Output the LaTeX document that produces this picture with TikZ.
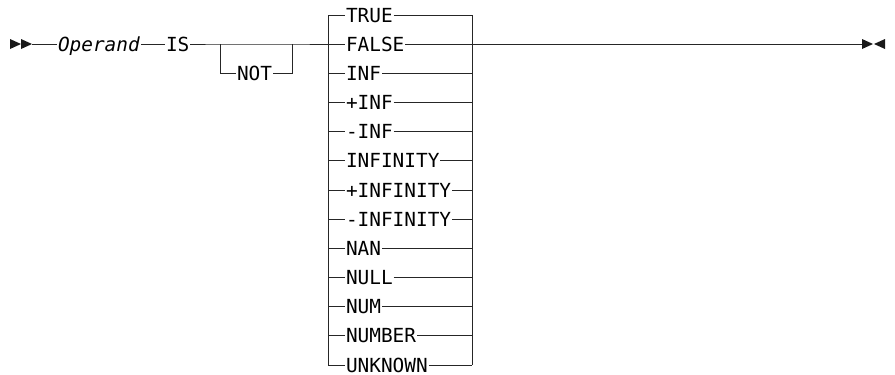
\documentclass[tikz,border=0pt]{standalone}
\usepackage{fontspec}
\newfontfamily\diagfont{DejaVu Sans Mono}
\tikzset{
  kw/.style={font=\diagfont\fontsize{19.4}{20}\selectfont, inner sep=1pt, outer sep=0pt,
             text height=14.1pt, text depth=0pt, anchor=west},
  rail/.style={line width=1pt, black!85},
  tip/.style={fill=black!90}
}
\begin{document}
\begin{tikzpicture}[x=1pt,y=-1pt]
\useasboundingbox (0,0) rectangle (895,375);

% start and end marks
\fill[tip] (10,39) -- (21,44) -- (10,49) -- cycle;
\fill[tip] (21,39) -- (32,44) -- (21,49) -- cycle;
\fill[tip] (862,39) -- (873,44) -- (862,49) -- cycle;
\fill[tip] (885,39) -- (874,44) -- (885,49) -- cycle;
\coordinate (START) at (32,44);
\coordinate (END) at (862,44);

\draw (57,44) node(OPER)[kw]{\itshape Operand};
\draw (165,44) node(IS)[kw]{IS};
\coordinate (SPLIT) at (220,44);
\coordinate (JOIN) at (292,44);
\draw (236,73) node(NOT)[kw]{NOT};

\coordinate (LEFT) at (328,44);
\coordinate (RIGHT) at (472,44);

\draw (345,15) node(TRUE)[kw]{TRUE};
\draw (345,44.2) node(FALSE)[kw]{FALSE};
\draw (345,73.3) node(INF)[kw]{INF};
\draw (345,102.5) node(PINF)[kw]{+INF};
\draw (345,131.7) node(MINF)[kw]{-INF};
\draw (345,160.8) node(INFTY)[kw]{INFINITY};
\draw (345,190) node(PINFTY)[kw]{+INFINITY};
\draw (345,219.2) node(MINFTY)[kw]{-INFINITY};
\draw (345,248.3) node(NAN)[kw]{NAN};
\draw (345,277.5) node(NULL)[kw]{NULL};
\draw (345,306.7) node(NUM)[kw]{NUM};
\draw (345,335.8) node(NUMBER)[kw]{NUMBER};
\draw (345,365) node(UNKNOWN)[kw]{UNKNOWN};

\draw[rail] (START) -- (OPER);
\draw[rail] (OPER) -- (IS);
\draw[rail] (IS) -- (SPLIT) -- (JOIN) -- (LEFT);
\draw[rail] (SPLIT) |- (NOT);
\draw[rail] (NOT) -| (JOIN);

\draw[rail] (TRUE.west-|LEFT) -- (UNKNOWN.west-|LEFT);
\draw[rail] (TRUE.east-|RIGHT) -- (UNKNOWN.east-|RIGHT);

\draw[rail] (TRUE.west-|LEFT) -- (TRUE);      \draw[rail] (TRUE) -- (TRUE.east-|RIGHT);
\draw[rail] (FALSE.west-|LEFT) -- (FALSE);    \draw[rail] (FALSE) -- (FALSE.east-|RIGHT);
\draw[rail] (INF.west-|LEFT) -- (INF);        \draw[rail] (INF) -- (INF.east-|RIGHT);
\draw[rail] (PINF.west-|LEFT) -- (PINF);      \draw[rail] (PINF) -- (PINF.east-|RIGHT);
\draw[rail] (MINF.west-|LEFT) -- (MINF);      \draw[rail] (MINF) -- (MINF.east-|RIGHT);
\draw[rail] (INFTY.west-|LEFT) -- (INFTY);    \draw[rail] (INFTY) -- (INFTY.east-|RIGHT);
\draw[rail] (PINFTY.west-|LEFT) -- (PINFTY);  \draw[rail] (PINFTY) -- (PINFTY.east-|RIGHT);
\draw[rail] (MINFTY.west-|LEFT) -- (MINFTY);  \draw[rail] (MINFTY) -- (MINFTY.east-|RIGHT);
\draw[rail] (NAN.west-|LEFT) -- (NAN);        \draw[rail] (NAN) -- (NAN.east-|RIGHT);
\draw[rail] (NULL.west-|LEFT) -- (NULL);      \draw[rail] (NULL) -- (NULL.east-|RIGHT);
\draw[rail] (NUM.west-|LEFT) -- (NUM);        \draw[rail] (NUM) -- (NUM.east-|RIGHT);
\draw[rail] (NUMBER.west-|LEFT) -- (NUMBER);  \draw[rail] (NUMBER) -- (NUMBER.east-|RIGHT);
\draw[rail] (UNKNOWN.west-|LEFT) -- (UNKNOWN); \draw[rail] (UNKNOWN) -- (UNKNOWN.east-|RIGHT);

\draw[rail] (RIGHT) -- (END);

\end{tikzpicture}
\end{document}
